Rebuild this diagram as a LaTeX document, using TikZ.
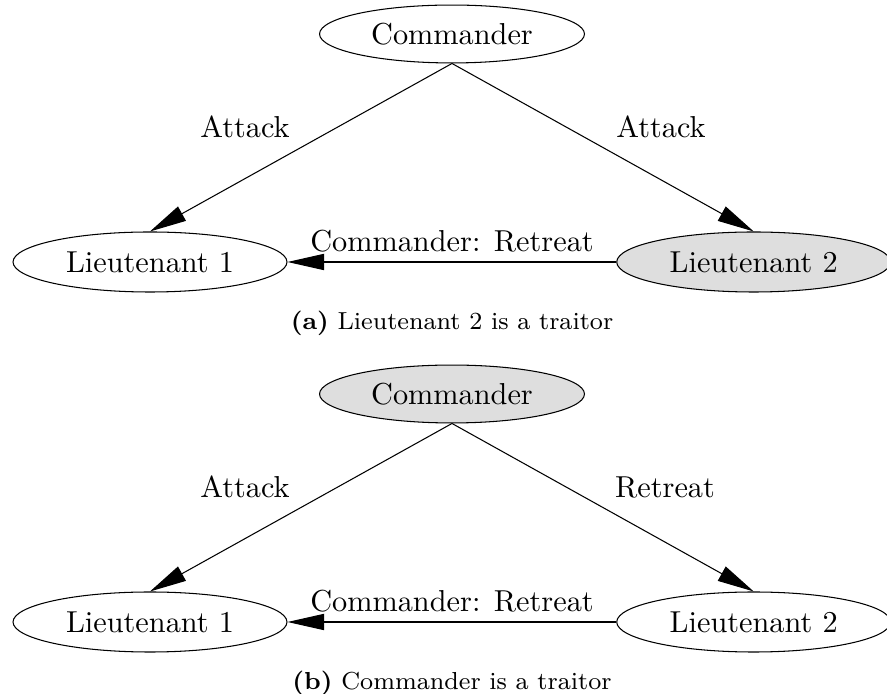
\documentclass[tikz,border=0pt]{standalone}
\usetikzlibrary{arrows.meta,shapes.geometric}
\definecolor{traitorfill}{HTML}{DEDEDE}
\begin{document}
\begin{tikzpicture}[x=0.3333pt,y=-0.3333pt,
  actor/.style={ellipse,draw,line width=0.35pt,inner sep=0pt,
    minimum width=91.3pt,minimum height=20pt,font=\fontsize{10.1}{12}\selectfont},
  chief/.style={actor,minimum width=88.3pt,minimum height=19.3pt},
  traitor/.style={fill=traitorfill},
  msg/.style={line width=0.35pt,-{Triangle[length=12.2pt,width=5.4pt]}},
  lbl/.style={font=\fontsize{10.1}{12}\selectfont,inner sep=0pt},
  captiontext/.style={font=\fontsize{8.2}{10}\selectfont,inner sep=0pt}]
\useasboundingbox (0,0) rectangle (887,694);

% (a) the second lieutenant lies
\node[chief] (ca) at (452,34) {Commander};
\node[actor] (la1) at (150,262) {Lieutenant 1};
\node[actor,traitor] (la2) at (753.7,262) {Lieutenant 2};
\draw[msg] (ca.south) -- (la1.north);
\draw[msg] (ca.south) -- (la2.north);
\draw[msg] (la2.west) -- (la1.east);
\node[lbl] (aa1) at (245,127) {Attack};
\node[lbl] (aa2) at (661,127) {Attack};
\node[lbl] (ar) at (452,241) {Commander: Retreat};
\node[captiontext] (capa) at (452,323) {\textbf{(a)} Lieutenant 2 is a traitor};

% (b) the commander lies
\node[chief,traitor] (cb) at (452,394) {Commander};
\node[actor] (lb1) at (150,622) {Lieutenant 1};
\node[actor] (lb2) at (753.7,622) {Lieutenant 2};
\draw[msg] (cb.south) -- (lb1.north);
\draw[msg] (cb.south) -- (lb2.north);
\draw[msg] (lb2.west) -- (lb1.east);
\node[lbl] (ba1) at (245,487) {Attack};
\node[lbl] (ba2) at (665,487) {Retreat};
\node[lbl] (br) at (452,601) {Commander: Retreat};
\node[captiontext] (capb) at (452,683) {\textbf{(b)} Commander is a traitor};
\end{tikzpicture}
\end{document}
